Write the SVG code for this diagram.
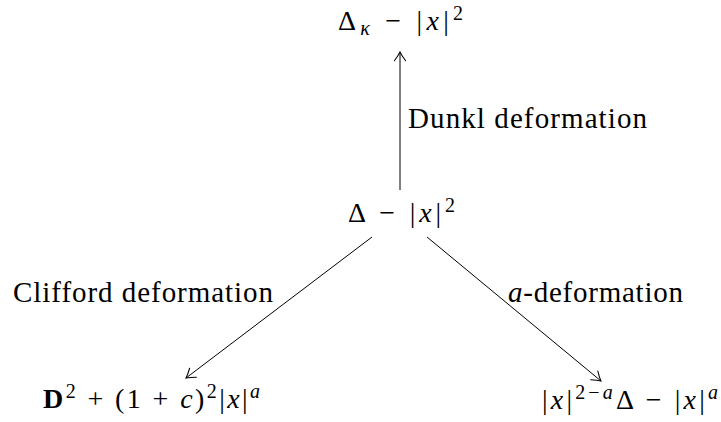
<svg xmlns="http://www.w3.org/2000/svg" width="721" height="422" viewBox="0 0 721 422">
<defs>
<style>
text{font-family:"Liberation Serif","Times New Roman",serif;font-size:29px;fill:#000}
.m{font-size:28px}
.i{font-style:italic}
.b{font-weight:bold}
.s{font-size:20px}
.edge{stroke:#000;stroke-width:1;fill:none}
</style>
<marker id="arr" markerWidth="14" markerHeight="14" refX="0" refY="0" viewBox="-9 -6 11 12" orient="auto" markerUnits="userSpaceOnUse">
<path d="M-7.5,-4.8 Q-3,-1.4 0,0 Q-3,1.4 -7.5,4.8" stroke="#000" stroke-width="0.9" fill="none" stroke-linecap="round"/>
</marker>
</defs>
<rect width="721" height="422" fill="#fff"/>
<g id="connectors">
<line class="edge" x1="400" y1="190" x2="400" y2="52" marker-end="url(#arr)"/>
<line class="edge" x1="372" y1="237" x2="186" y2="378" marker-end="url(#arr)"/>
<line class="edge" x1="427" y1="237" x2="601" y2="381" marker-end="url(#arr)"/>
<text x="408" y="128" textLength="239" lengthAdjust="spacing">Dunkl deformation</text>
<text x="13" y="302" textLength="260" lengthAdjust="spacing">Clifford deformation</text>
<text x="508" y="302" textLength="175" lengthAdjust="spacing"><tspan class="i">a</tspan>-deformation</text>
</g>
<g id="n-top">
<text class="m" x="338" y="30" textLength="125" lengthAdjust="spacing">Δ<tspan class="i s" dy="5">κ</tspan><tspan dy="-5"> − |</tspan><tspan class="i">x</tspan>|<tspan class="s" dy="-10">2</tspan></text>
</g>
<g id="n-center">
<text class="m" x="348" y="222" textLength="107" lengthAdjust="spacing">Δ − |<tspan class="i">x</tspan>|<tspan class="s" dy="-10">2</tspan></text>
</g>
<g id="n-left">
<text class="m" x="43" y="408" textLength="217" lengthAdjust="spacing"><tspan class="b">D</tspan><tspan class="s" dy="-10">2</tspan><tspan dy="10"> + (1 + </tspan><tspan class="i">c</tspan>)<tspan class="s" dy="-10">2</tspan><tspan dy="10">|</tspan><tspan class="i">x</tspan>|<tspan class="i s" dy="-10">a</tspan></text>
</g>
<g id="n-right">
<text class="m" x="542" y="409" textLength="176" lengthAdjust="spacing">|<tspan class="i">x</tspan>|<tspan class="s" dy="-10">2−<tspan class="i">a</tspan></tspan><tspan dy="10">Δ − |</tspan><tspan class="i">x</tspan>|<tspan class="i s" dy="-10">a</tspan></text>
</g>
</svg>
